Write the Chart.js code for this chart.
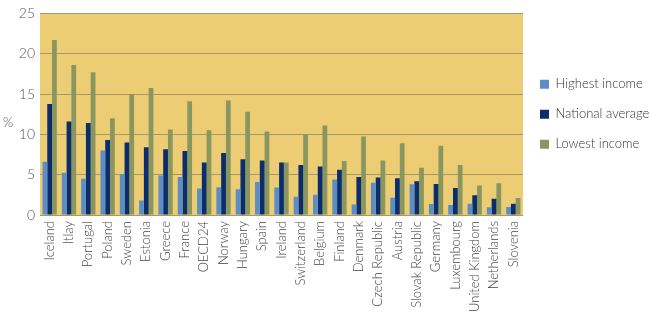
<!DOCTYPE html>
<html><head><meta charset="utf-8">
<script src="https://cdn.jsdelivr.net/npm/chart.js@4/dist/chart.umd.min.js"></script>
<style>html,body{margin:0;padding:0;background:#fff}#wrap{width:650px;height:317px;position:relative}</style>
</head><body><div id="wrap"><canvas id="c"></canvas></div>
<script>
const categories = ['Iceland','Itlay','Portugal','Poland','Sweden','Estonia','Greece','France','OECD24','Norway','Hungary','Spain','Ireland','Switzerland','Belgium','Finland','Denmark','Czech Republic','Austria','Slovak Republic','Germany','Luxembourg','United Kingdom','Netherlands','Slovenia'];
const highestIncome = [6.6,5.25,4.5,8.0,5.05,1.8,4.9,4.7,3.3,3.45,3.2,4.1,3.4,2.25,2.5,4.4,1.3,4.0,2.15,3.8,1.35,1.25,1.4,0.95,1.0];
const nationalAverage = [13.75,11.6,11.4,9.3,9.0,8.4,8.15,7.95,6.5,7.7,6.9,6.75,6.5,6.2,6.0,5.6,4.7,4.65,4.55,4.2,3.85,3.35,2.45,2.0,1.4];
const lowestIncome = [21.7,18.6,17.7,12.0,15.0,15.75,10.6,14.1,10.5,14.2,12.8,10.35,6.5,10.0,11.1,6.7,9.75,6.75,8.9,5.85,8.6,6.2,3.65,3.95,2.1];
const seriesNames = ['Highest income','National average','Lowest income'];
const yTicks = [0,5,10,15,20,25];
const yUnit = '%';

const FONT = 'Lato, "Open Sans", sans-serif';
const LEGEND_W = 127;

const bgPlugin = {
  id: 'bg',
  beforeLayout(chart) {
    const lg = chart.legend;
    if (lg && !lg._fixedW) {
      const f = lg.fit.bind(lg);
      lg.fit = function () { f(); this.width = LEGEND_W; };
      lg._fixedW = true;
    }
  },
  beforeDraw(chart) {
    const {ctx, chartArea: a} = chart;
    ctx.save();
    ctx.fillStyle = '#EDCD74';
    ctx.fillRect(a.left, a.top, a.right - a.left, a.bottom - a.top);
    ctx.restore();
  },
  afterDraw(chart) {
    const {ctx, chartArea: a} = chart;
    ctx.save();
    ctx.font = '300 13px ' + FONT;
    ctx.fillStyle = '#555';
    ctx.textAlign = 'left';
    ctx.textBaseline = 'middle';
    ctx.fillText(yUnit, 3, (a.top + a.bottom) / 2 + 9);
    ctx.restore();
  }
};

new Chart(document.getElementById('c'), {
  type: 'bar',
  data: {
    labels: categories,
    datasets: [
      {label: seriesNames[0], data: highestIncome, backgroundColor: '#5B8DC6'},
      {label: seriesNames[1], data: nationalAverage, backgroundColor: '#0B2D6B'},
      {label: seriesNames[2], data: lowestIncome, backgroundColor: '#8A9660'}
    ]
  },
  options: {
    responsive: true,
    maintainAspectRatio: false,
    animation: false,
    layout: {padding: {top: 12, right: 0, left: 0, bottom: 0}},
    datasets: {bar: {categoryPercentage: 0.74, barPercentage: 1.0}},
    plugins: {
      legend: {
        position: 'right',
        fullSize: false,
        labels: {
          boxWidth: 9, boxHeight: 9, padding: 17,
          color: '#333', font: {family: FONT, size: 13, weight: '300'}
        }
      },
      tooltip: {enabled: false}
    },
    scales: {
      x: {
        grid: {display: false, drawTicks: false},
        border: {display: false},
        ticks: {
          minRotation: 90, maxRotation: 90, autoSkip: false, padding: 6,
          color: '#444', font: {family: FONT, size: 13, weight: '300'}
        },
        afterFit(s) { s.height = 102; }
      },
      y: {
        min: 0, max: 25,
        afterBuildTicks(s) { s.ticks = yTicks.map(v => ({value: v})); },
        grid: {color: '#A6976A', lineWidth: 1, drawTicks: false},
        border: {display: false},
        ticks: {padding: 5, color: '#555', font: {family: FONT, size: 14, weight: '300'}},
        afterFit(s) { s.width = 40; }
      }
    }
  },
  plugins: [bgPlugin]
});
</script></body></html>
